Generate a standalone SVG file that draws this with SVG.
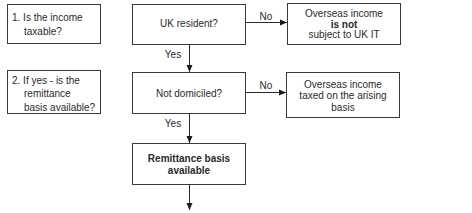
<svg xmlns="http://www.w3.org/2000/svg" width="472" height="213" viewBox="0 0 472 213">
<style>
.box{fill:#fff;stroke:#3a3a3a;stroke-width:1}
.t{font-family:"Liberation Sans",Arial,sans-serif;font-size:10px;fill:#2a2a2a}
.c{text-anchor:middle}
.b{font-weight:bold}
.ln{stroke:#2a2a2a;stroke-width:1;fill:none}
</style>
<defs>
<marker id="ah" markerWidth="8" markerHeight="8" refX="7" refY="4" orient="auto" markerUnits="userSpaceOnUse">
<path d="M0,1 L7,4 L0,7 Z" fill="#1a1a1a"/>
</marker>
</defs>
<g id="q1">
<rect class="box" x="7.5" y="4.5" width="93" height="39"/>
<text class="t" x="12" y="21">1. Is the income</text>
<text class="t" x="24" y="34.5">taxable?</text>
</g>
<g id="q2">
<rect class="box" x="7.5" y="70.5" width="93" height="43"/>
<text class="t" x="12" y="83.5">2. If yes - is the</text>
<text class="t" x="24" y="97">remittance</text>
<text class="t" x="24" y="110.5">basis available?</text>
</g>
<g id="uk">
<rect class="box" x="132.5" y="4.5" width="113" height="40"/>
<text class="t c" x="189" y="27">UK resident?</text>
</g>
<g id="notuk">
<rect class="box" x="287.5" y="3.5" width="113" height="41"/>
<text class="t c" x="344" y="16.5">Overseas income</text>
<text class="t c b" x="344" y="27.5">is not</text>
<text class="t c" x="344" y="37.5">subject to UK IT</text>
</g>
<g id="dom">
<rect class="box" x="132.5" y="72.5" width="113" height="41"/>
<text class="t c" x="189" y="96.5">Not domiciled?</text>
</g>
<g id="arising">
<rect class="box" x="286.5" y="72.5" width="113" height="45"/>
<text class="t c" x="343" y="87.5">Overseas income</text>
<text class="t c" x="343" y="99">taxed on the arising</text>
<text class="t c" x="343" y="110.5">basis</text>
</g>
<g id="remit">
<rect class="box" x="132.5" y="143.5" width="113" height="41"/>
<text class="t c b" x="189" y="161.5">Remittance basis</text>
<text class="t c b" x="189" y="173.5">available</text>
</g>
<g id="connectors">
<line class="ln" x1="245.5" y1="22.5" x2="287" y2="22.5" marker-end="url(#ah)"/>
<text class="t c" x="266" y="19.5">No</text>
<line class="ln" x1="189.5" y1="44.5" x2="189.5" y2="72" marker-end="url(#ah)"/>
<text class="t c" x="173" y="57.5">Yes</text>
<line class="ln" x1="245.5" y1="92.5" x2="286" y2="92.5" marker-end="url(#ah)"/>
<text class="t c" x="266" y="88.5">No</text>
<line class="ln" x1="189.5" y1="113.5" x2="189.5" y2="143" marker-end="url(#ah)"/>
<text class="t c" x="173" y="126.5">Yes</text>
<line class="ln" x1="189.5" y1="184.5" x2="189.5" y2="210" marker-end="url(#ah)"/>
</g>
</svg>
